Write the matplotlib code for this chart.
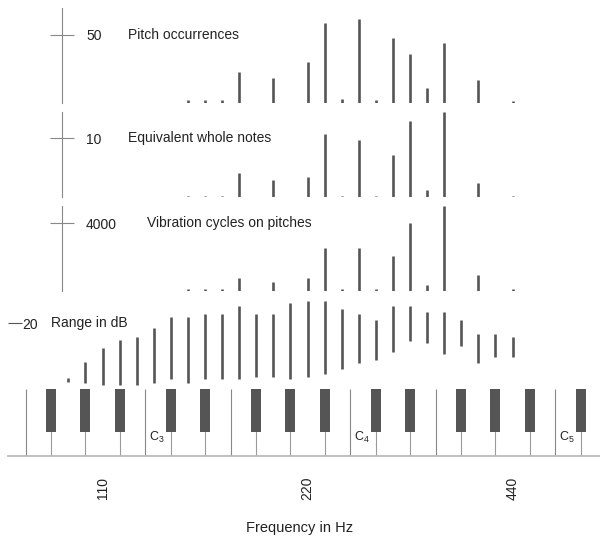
import matplotlib
matplotlib.use("Agg")
import matplotlib.pyplot as plt
import matplotlib.transforms as mtransforms
from matplotlib.ticker import NullLocator

plt.rcParams["font.family"] = ["Liberation Sans", "DejaVu Sans"]

# ------------------------------------------------------------
# data
# ------------------------------------------------------------
pitch_notes = ["D3", "D#3", "E3", "F3", "G3", "A3", "A#3", "B3",
               "C4", "C#4", "D4", "D#4", "E4", "F4", "G4", "A4"]
occurrences = [2, 2, 2, 23, 18, 30, 59, 3, 62, 2, 48, 36, 11, 44, 17, 1]
whole_notes = [0.3, 0.3, 0.3, 4.2, 2.9, 3.5, 10.8, 0.3, 9.7, 0.3, 7.1, 13.0,
               1.2, 14.4, 2.4, 0.2]
cycles = [80, 80, 80, 735, 500, 772, 2516, 80, 2516, 80, 2060, 4000, 338,
          5027, 932, 80]

range_notes = ["G2", "G#2", "A2", "A#2", "B2", "C3", "C#3", "D3", "D#3", "E3",
               "F3", "F#3", "G3", "G#3", "A3", "A#3", "B3", "C4", "C#4", "D4",
               "D#4", "E4", "F4", "F#4", "G4", "G#4", "A4"]
range_low = [2.4, 2.2, 1.5, 1.5, 1.5, 2.2, 3.2, 2.2, 3.2, 3.2, 3.2, 3.8, 3.8,
             3.2, 3.8, 4.8, 6.3, 8.0, 9.0, 11.5, 14.8, 14.0, 10.7, 13.3, 8.0,
             9.8, 9.8]
range_high = [3.6, 8.4, 12.5, 15.0, 15.8, 18.5, 21.8, 21.8, 22.7, 22.7, 25.2,
              22.7, 22.7, 26.0, 26.8, 26.8, 24.3, 22.7, 21.0, 25.2, 25.2, 23.4,
              23.4, 21.0, 16.7, 16.7, 15.9]

black_keys = ["F#2", "G#2", "A#2", "C#3", "D#3", "F#3", "G#3", "A#3",
              "C#4", "D#4", "F#4", "G#4", "A#4", "C#5"]
white_gaps = ["F2", "C3", "F3", "C4", "F4", "C5"]   # E/F and B/C edges
c_labels = ["C3", "C4", "C5"]

freq_ticks = [110, 220, 440]

NOTE_INDEX = {"C": 0, "C#": 1, "D": 2, "D#": 3, "E": 4, "F": 5, "F#": 6,
              "G": 7, "G#": 8, "A": 9, "A#": 10, "B": 11}


def freq(name):
    n = int(name[-1]) * 12 + NOTE_INDEX[name[:-1]]
    return 440 * 2 ** ((n - 57) / 12)


# ------------------------------------------------------------
# layout helpers
# ------------------------------------------------------------
W, H = 600, 537
XMIN, XMAX = 77.78, 591.4
BAR = "#555555"
AX = "#888888"
TXT = "#222222"

fig = plt.figure(figsize=(6, 5.37), dpi=100)


def add_panel(top, bottom):
    ax = fig.add_axes([0, 1 - bottom / H, 1, (bottom - top) / H])
    ax.set_xscale("log", base=2)
    ax.set_xlim(XMIN, XMAX)
    ax.patch.set_alpha(0)
    ax.xaxis.set_major_locator(NullLocator())
    ax.xaxis.set_minor_locator(NullLocator())
    for s in ["top", "bottom", "left"]:
        ax.spines[s].set_visible(False)
    return ax


def bar_panel(top, base, ymax, notes, values, tick, title, title_x):
    ax = add_panel(top, base)
    ax.set_ylim(0, ymax)
    ax.vlines([freq(n) for n in notes], 0, values, color=BAR, lw=1.9)
    ax.spines["right"].set_position(("axes", 62.3 / W))
    ax.spines["right"].set_color(AX)
    ax.spines["right"].set_linewidth(0.8)
    ax.yaxis.tick_right()
    ax.set_yticks([tick])
    ax.tick_params(axis="y", direction="inout", length=17.8, width=0.8,
                   color=AX, pad=8.2, labelsize=10, labelcolor=TXT)
    tr = mtransforms.blended_transform_factory(ax.transAxes, ax.transData)
    ax.text(title_x / W, tick, title, transform=tr, va="center",
            fontsize=10, color=TXT)
    return ax


bar_panel(8, 102.7, 69.9, pitch_notes, occurrences, 50,
          "Pitch occurrences", 128.3)
bar_panel(112, 197.3, 14.46, pitch_notes, whole_notes, 10,
          "Equivalent whole notes", 128.3)
bar_panel(206, 290.7, 5027, pitch_notes, cycles, 4000,
          "Vibration cycles on pitches", 146.7)

# range in dB
ax4 = add_panel(290, 390)
ax4.set_ylim(0, 30)
ax4.vlines([freq(n) for n in range_notes], range_low, range_high,
           color=BAR, lw=1.9)
ax4.spines["right"].set_position(("axes", 8 / W))
ax4.spines["right"].set_visible(False)
ax4.yaxis.tick_right()
ax4.set_yticks([20])
ax4.tick_params(axis="y", direction="out", length=10, width=0.8,
                color="#555555", pad=0.5, labelsize=10, labelcolor=TXT)
tr4 = mtransforms.blended_transform_factory(ax4.transAxes, ax4.transData)
ax4.text(50.7 / W, 20, "Range in dB", transform=tr4, va="center",
         fontsize=10, color=TXT)

# keyboard
kb = add_panel(389.3, 456)
kb.set_ylim(0, 1)
kb.spines["right"].set_visible(False)
kb.set_yticks([])
kb.spines["bottom"].set_visible(True)
kb.spines["bottom"].set_bounds(80, XMAX)
kb.spines["bottom"].set_color("#bbbbbb")
kb.spines["bottom"].set_linewidth(1.3)
kb.vlines([freq(n) * 2 ** (-1 / 24) for n in white_gaps], 0, 1,
          color=AX, lw=0.8)
kb.vlines([freq(n) for n in black_keys], 0, 0.4, color="#9a9a9a", lw=0.8)
kb.vlines([freq(n) for n in black_keys], 0.355, 1, color=BAR, lw=7.2)
for n in c_labels:
    kb.annotate(r"$\mathregular{C_%s}$" % n[-1],
                xy=(freq(n) * 2 ** (-1 / 24), 0.225), xytext=(2.7, 0),
                textcoords="offset points", va="baseline", ha="left",
                fontsize=9, color=TXT)

kb.set_xticks(freq_ticks)
kb.set_xticklabels([str(f) for f in freq_ticks], rotation=90)
kb.xaxis.set_minor_locator(NullLocator())
kb.tick_params(axis="x", length=0, pad=14.9, labelsize=10, labelcolor=TXT)
kb.set_xlabel("Frequency in Hz", fontsize=10.5, color=TXT, labelpad=15)

fig.savefig("out.png", dpi=100)
